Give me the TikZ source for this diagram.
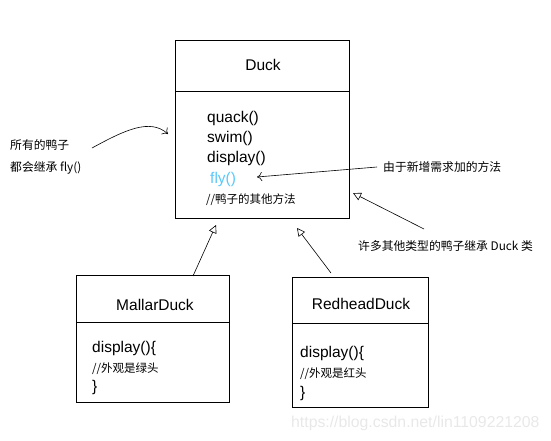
\documentclass[tikz,border=0pt]{standalone}
\usepackage{fontspec}
\setmainfont{Liberation Sans}
\newfontfamily\cjk{Noto Sans CJK SC}
\usetikzlibrary{positioning,arrows.meta}

\begin{document}
\begin{tikzpicture}[x=1pt,y=-1pt,
   cls/.style={draw,line width=0.9pt,inner sep=0pt},
   title/.style={font=\fontsize{15.5}{18}\selectfont},
   meth/.style={anchor=base west,inner sep=0pt,font=\fontsize{15.5}{18}\selectfont},
   cmt/.style={anchor=base west,inner sep=0pt,font=\cjk\fontsize{11.5}{14}\selectfont},
   note/.style={anchor=base west,inner sep=0pt,font=\cjk\fontsize{11.8}{14}\selectfont},
   inherit/.style={-{Triangle[open,length=8pt,width=8pt]},line width=0.6pt},
   point/.style={-{To[length=5pt,width=9pt]},line width=0.6pt}]
   \useasboundingbox (0,0) rectangle (551,440);
   % Duck
   \node[cls,minimum width=174pt,minimum height=51pt] (duck) at (262,65.5) {};
   \node[cls,minimum width=174pt,minimum height=127pt,below=0pt of duck] (duck_m) {};
   \node[title] at (263,65) {Duck};
   \node[meth] (quack) at (207,122) {quack()};
   \node[meth] (swim) at (207,142) {swim()};
   \node[meth] (disp) at (207,162) {display()};
   \node[meth,text={rgb,255:red,90;green,200;blue,250}] (fly) at (210,183) {fly()};
   \node[cmt] (other) at (206,203) {//鸭子的其他方法};
   % MallarDuck
   \node[cls,minimum width=153pt,minimum height=47pt] (mallar) at (152.5,298.5) {};
   \node[cls,minimum width=153pt,minimum height=80pt,below=0pt of mallar] (mallar_m) {};
   \node[title] at (155,304.5) {MallarDuck};
   \node[meth] (mdisp) at (92,352) {display()\{};
   \node[cmt] (mcmt) at (92,372) {//外观是绿头};
   \node[meth] (mend) at (92,391) {\}};
   % RedheadDuck
   \node[cls,minimum width=136pt,minimum height=46pt] (red) at (360,300) {};
   \node[cls,minimum width=136pt,minimum height=84pt,below=0pt of red] (red_m) {};
   \node[title] at (361,303.5) {RedheadDuck};
   \node[meth] (rdisp) at (300,357) {display()\{};
   \node[cmt] (rcmt) at (300,377) {//外观是红头};
   \node[meth] (rend) at (300,397) {\}};
   % notes
   \node[note] (all1) at (10,149) {所有的鸭子};
   \node[note] (all2) at (10,171) {都会继承 fly()};
   \node[note] (newm) at (383,171) {由于新增需求加的方法};
   \node[note] (many) at (358,250) {许多其他类型的鸭子继承 Duck 类};
   \node[anchor=base west,inner sep=0pt,text=black!9,font=\fontsize{15.8}{18}\selectfont]
      (mark) at (291,427) {https://blog.csdn.net/lin1109221208};
   \coordinate (allfrom) at (92,148);
   \coordinate (allto) at (168,134);
   \coordinate (flyto) at (257,177);
   \coordinate (newfrom) at (377,167);
   \coordinate (manyfrom) at (424,229);
   \coordinate (manyto) at (353,193);
   \coordinate (mup) at (193,276);
   \coordinate (mto) at (216,225);
   \coordinate (rup) at (331,273);
   \coordinate (rto) at (297,228);
   \draw[point] (allfrom) .. controls (125,130) and (150,118) .. (allto);
   \draw[point] (newfrom) -- (flyto);
   \draw[inherit] (manyfrom) -- (manyto);
   \draw[inherit] (mup) -- (mto);
   \draw[inherit] (rup) -- (rto);
\end{tikzpicture}
\end{document}
